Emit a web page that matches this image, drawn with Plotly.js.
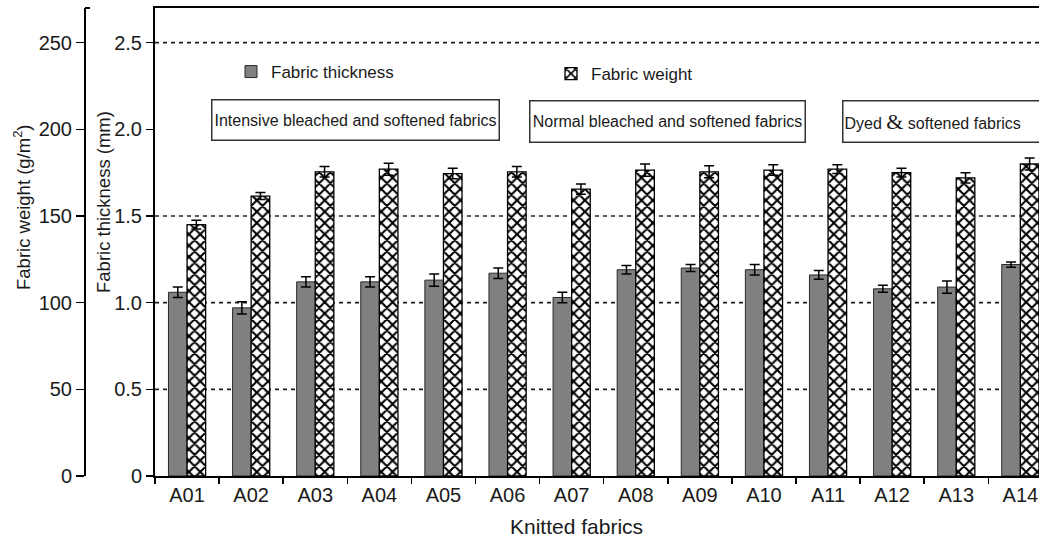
<!DOCTYPE html>
<html>
<head>
<meta charset="utf-8">
<script src="https://cdn.plot.ly/plotly-3.0.1.min.js"></script>
<style>html,body{margin:0;padding:0;background:#fff;}#chart{width:1039px;height:550px;}</style>
</head>
<body>
<div id="chart"></div>
<script>
// ---- data ----
const categories = ['A01','A02','A03','A04','A05','A06','A07','A08','A09','A10','A11','A12','A13','A14'];
const thickness = [1.06,0.97,1.12,1.12,1.13,1.17,1.03,1.19,1.20,1.19,1.16,1.08,1.09,1.22];
const thicknessErr = [0.03,0.035,0.03,0.03,0.035,0.03,0.03,0.025,0.02,0.03,0.025,0.02,0.035,0.015];
const weight = [145,161.5,175.5,177,174.5,175.5,165.5,176.5,175.5,176.5,177,175,172,180];
const weightErr = [2.5,2,3,3.5,3,3,3,3.5,3.5,3,2.5,2.5,3,3.5];
const thicknessTicks = [0,0.5,1.0,1.5,2.0,2.5];
const thicknessTickText = ['0','0.5','1.0','1.5','2.0','2.5'];
const weightTicks = [0,50,100,150,200,250];
const gridValues = [0.5,1.0,1.5,2.5];
const groupLabels = ['Intensive bleached and softened fabrics','Normal bleached and softened fabrics','Dyed <span style="font-family:\'Liberation Serif\',serif;font-size:22px">&amp;</span> softened fabrics'];

const W = 1039, H = 550;
const mL = 0, mR = 0, mT = 8, mB = 74;
const plotLeftPx = 155;
const px = v => v / W;                         // paper x from pixel
const py = v => (H - mB - v) / (H - mT - mB);  // paper y from pixel
const FONT = 'Liberation Sans, Arial, sans-serif';

const traces = [
  {
    type: 'bar', name: 'Fabric thickness', x: categories, y: thickness,
    xaxis: 'x', yaxis: 'y', offsetgroup: '1', legend: 'legend',
    marker: {color: '#808080', line: {color: '#2a2a2a', width: 1}},
    error_y: {type: 'data', array: thicknessErr, visible: true, color: '#000', thickness: 1.5, width: 5}
  },
  {
    type: 'bar', name: 'Fabric weight', x: categories, y: weight,
    xaxis: 'x', yaxis: 'y2', offsetgroup: '2', legend: 'legend2',
    marker: {color: '#ffffff', line: {color: '#000', width: 1.3},
             pattern: {shape: 'x', fgcolor: '#000', bgcolor: '#fff', size: 8, solidity: 0.45}},
    error_y: {type: 'data', array: weightErr, visible: true, color: '#000', thickness: 1.5, width: 5}
  }
];

const shapes = gridValues.map(v => ({
  type: 'line', xref: 'x domain', yref: 'y', x0: 0, x1: 1, y0: v, y1: v,
  line: {color: '#222', width: 1.6, dash: '4px,4px'}, layer: 'below'
}));
shapes.push({type: 'line', xref: 'paper', yref: 'paper', x0: px(85), x1: px(90), y0: 1, y1: 1,
  line: {color: '#000', width: 2}});

const boxFont = {family: FONT, size: 16, color: '#1a1a1a'};
const annotations = [
  {text: groupLabels[0], xref: 'paper', yref: 'paper', x: px(355), y: py(120), xanchor: 'center', yanchor: 'middle',
   showarrow: false, font: boxFont, bordercolor: '#333', borderwidth: 1.5, borderpad: 1,
   bgcolor: '#fff', width: 284, height: 37},
  {text: groupLabels[1], xref: 'paper', yref: 'paper', x: px(667), y: py(121), xanchor: 'center', yanchor: 'middle',
   showarrow: false, font: boxFont, bordercolor: '#333', borderwidth: 1.5, borderpad: 1,
   bgcolor: '#fff', width: 272, height: 38},
  {text: groupLabels[2], xref: 'paper', yref: 'paper', x: px(842), y: py(121), xanchor: 'left', yanchor: 'middle',
   showarrow: false, align: 'left', font: boxFont, bordercolor: '#333', borderwidth: 1.5, borderpad: 1,
   bgcolor: '#fff', width: 262, height: 38},
  {text: 'Fabric weight (g/m<sup>2</sup>)', xref: 'paper', yref: 'paper', x: px(22), y: py(207),
   xanchor: 'center', yanchor: 'middle', textangle: -90,
   showarrow: false, font: {family: FONT, size: 18.5, color: '#1a1a1a'}},
  {text: 'Fabric thickness (mm)', xref: 'paper', yref: 'paper', x: px(103), y: py(202),
   xanchor: 'center', yanchor: 'middle', textangle: -90,
   showarrow: false, font: {family: FONT, size: 18.5, color: '#1a1a1a'}},
  {text: 'Knitted fabrics', xref: 'paper', yref: 'paper', x: px(576), y: py(526),
   xanchor: 'center', yanchor: 'middle', showarrow: false,
   font: {family: FONT, size: 21, color: '#1a1a1a'}}
];

const tickFont = {family: FONT, size: 20, color: '#1a1a1a'};
const layout = {
  width: W, height: H,
  margin: {l: mL, r: mR, t: mT, b: mB, pad: 0},
  paper_bgcolor: '#fff', plot_bgcolor: '#fff',
  font: {family: FONT, size: 18, color: '#1a1a1a'},
  barmode: 'group', bargap: 0.42, bargroupgap: 0,
  xaxis: {
    domain: [px(plotLeftPx), 1], range: [-0.5, -0.5 + (W - plotLeftPx) / 64.1],
    type: 'category', tickson: 'boundaries', ticks: 'outside', ticklen: 6, tickwidth: 1.5, tickcolor: '#000',
    showline: true, linecolor: '#000', linewidth: 2, mirror: true, showgrid: false, zeroline: false,
    tickfont: tickFont, fixedrange: true
  },
  yaxis: {
    anchor: 'x', range: [0, 2.7], tickvals: thicknessTicks, ticktext: thicknessTickText,
    ticks: 'outside', ticklen: 7, tickwidth: 1.5, tickcolor: '#000',
    showline: true, linecolor: '#000', linewidth: 2, showgrid: false, zeroline: false,
    tickfont: tickFont
  },
  yaxis2: {
    overlaying: 'y', anchor: 'free', position: px(85), side: 'left', range: [0, 270],
    tickvals: weightTicks, ticks: 'outside', ticklen: 8, tickwidth: 1.5, tickcolor: '#000',
    showline: true, linecolor: '#000', linewidth: 2, showgrid: false, zeroline: false,
    tickfont: tickFont
  },
  legend: {x: px(231), y: py(72), xanchor: 'left', yanchor: 'middle', bgcolor: 'rgba(0,0,0,0)',
           font: {family: FONT, size: 17, color: '#1a1a1a'}},
  legend2: {x: px(551), y: py(74), xanchor: 'left', yanchor: 'middle', bgcolor: 'rgba(0,0,0,0)',
           font: {family: FONT, size: 17, color: '#1a1a1a'}},
  shapes: shapes,
  annotations: annotations,
  showlegend: true
};

Plotly.newPlot('chart', traces, layout, {displayModeBar: false, staticPlot: true});
</script>
</body>
</html>
